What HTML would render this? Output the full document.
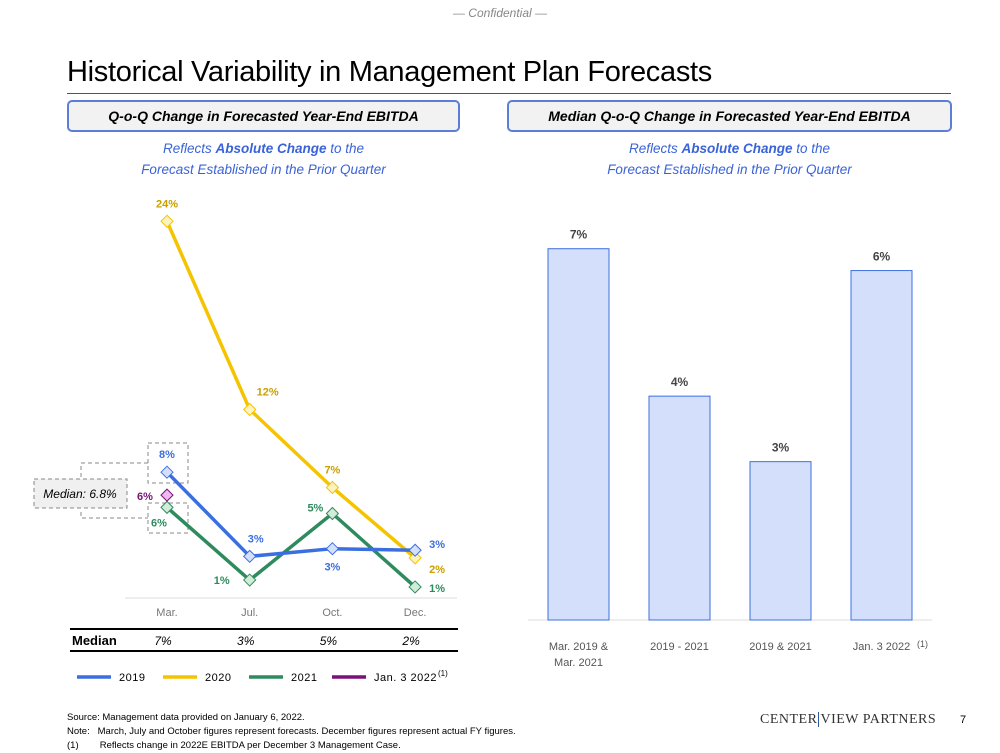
<!DOCTYPE html>
<html><head><meta charset="utf-8"><style>
body{margin:0;width:1000px;height:750px;background:#fff;position:relative;overflow:hidden;font-family:"Liberation Sans",sans-serif;color:#000}
.a{position:absolute;white-space:nowrap}
.box{position:absolute;border:2px solid #5b7fd6;border-radius:5px;background:#f2f2f2;font-style:italic;font-weight:bold;font-size:14px;text-align:center;line-height:28px;box-sizing:border-box;height:32px}
.sub{position:absolute;color:#3a63d8;font-style:italic;font-size:13.5px;text-align:center;line-height:21px}
</style></head><body>
<div class="a" style="left:0;width:1000px;text-align:center;top:6px;font-size:12px;font-style:italic;color:#888">— Confidential —</div>
<div class="a" style="left:67px;top:56px;font-size:29px;letter-spacing:-0.3px">Historical Variability in Management Plan Forecasts</div>
<div class="a" style="left:67px;top:93px;width:884px;height:1px;background:#2e5a9a"></div>
<div class="box" style="left:67px;top:100px;width:393px">Q-o-Q Change in Forecasted Year-End EBITDA</div>
<div class="box" style="left:507px;top:100px;width:445px">Median Q-o-Q Change in Forecasted Year-End EBITDA</div>
<div class="sub" style="left:67px;width:393px;top:138px">Reflects <b>Absolute Change</b> to the<br>Forecast Established in the Prior Quarter</div>
<div class="sub" style="left:507px;width:445px;top:138px">Reflects <b>Absolute Change</b> to the<br>Forecast Established in the Prior Quarter</div>

<svg id="chart" width="1000" height="750" style="position:absolute;left:0;top:0" font-family="Liberation Sans, sans-serif"></svg>

<div class="a" style="left:67px;top:711px;font-size:9.5px;line-height:14px">Source: Management data provided on January 6, 2022.<br>Note:&nbsp;&nbsp;&nbsp;March, July and October figures represent forecasts. December figures represent actual FY figures.<br>(1)&nbsp;&nbsp;&nbsp;&nbsp;&nbsp;&nbsp;&nbsp;&nbsp;Reflects change in 2022E EBITDA per December 3 Management Case.</div>
<div class="a" style="left:760px;top:712px;font-size:14px;color:#333;letter-spacing:0.5px;font-family:'Liberation Serif',serif">CENTER<span style="border-left:1px solid #2e5a9a;margin:0 1px"></span>VIEW PARTNERS</div>
<div class="a" style="left:960px;top:714px;font-size:11px">7</div>

<script>
const quarters=["Mar.","Jul.","Oct.","Dec."];
const s2019=[7.7,2.2,2.7,2.6];
const s2020=[24.1,11.8,6.7,2.1];
const s2021=[5.4,0.65,5.0,0.2];
const sJan=[6.2];
const lab2019=["8%","3%","3%","3%"];
const lab2020=["24%","12%","7%","2%"];
const lab2021=["6%","1%","5%","1%"];
const labJan=["6%"];
const medians=["7%","3%","5%","2%"];
const barCats=[["Mar. 2019 &","Mar. 2021"],["2019 - 2021"],["2019 & 2021"],["Jan. 3 2022"]];
const barVals=[6.8,4.1,2.9,6.4];
const barLabels=["7%","4%","3%","6%"];

const svg=document.getElementById('chart');
const NS='http://www.w3.org/2000/svg';
function mk(t,a,p){const e=document.createElementNS(NS,t);for(const k in a)e.setAttribute(k,a[k]);(p||svg).appendChild(e);return e;}
function txt(x,y,s,a,p){const e=mk('text',Object.assign({x:x,y:y},a),p);e.textContent=s;return e;}
const lx=i=>167+i*82.7;
const ly=v=>590-v*15.3;

const ax=mk('line',{x1:125,x2:457,y1:598,y2:598,stroke:'#ddd','stroke-width':1});

quarters.forEach((q,i)=>{const t=txt(lx(i),616,q,{'text-anchor':'middle','font-size':11,fill:'#777'});
});

const dash={fill:'none',stroke:'#888','stroke-dasharray':'4,3','stroke-width':1};
const c1=mk('rect',Object.assign({x:148,y:443,width:40,height:40},dash));
const c2=mk('rect',Object.assign({x:148,y:503,width:40,height:30},dash));
const c3=mk('path',Object.assign({d:'M148,463 H81 V478 M81,512 V518 H148'},dash));
const mb=mk('rect',{x:34,y:479,width:93,height:29,fill:'#f0f0f0',stroke:'#888','stroke-dasharray':'4,3'});

const mt=txt(80,498,'Median: 6.8%',{'text-anchor':'middle','font-size':12,'font-style':'italic'});


function series(vals,labs,color,fillc,labc,name,offs){
  const pts=vals.map((v,i)=>lx(i)+','+ly(v)).join(' ');
  if(vals.length>1){const pl=mk('polyline',{points:pts,fill:'none',stroke:color,'stroke-width':3.5});
  }
  vals.forEach((v,i)=>{const x=lx(i),y=ly(v);
    const d=mk('path',{d:`M${x},${y-6} L${x+6},${y} L${x},${y+6} L${x-6},${y} Z`,fill:fillc,stroke:color,'stroke-width':1});
    
    const o=offs[i];
    const t=txt(x+o[0],y+o[1],labs[i],{'text-anchor':'middle','font-size':11,'font-weight':'bold',fill:labc});
    
  });
}
series(s2020,lab2020,'#f5c400','#fdf3c0','#c9a000','2020',[[0,-14],[18,-14],[0,-14],[22,15]]);
series(s2021,lab2021,'#2e8b5e','#d2ecd9','#2e8b5e','2021',[[-8,19],[-28,4],[-17,-2],[22,5]]);
series(s2019,lab2019,'#3b6fe0','#d4e0fb','#3b6fe0','2019',[[0,-14],[6,-14],[0,22],[22,-2]]);
series(sJan,labJan,'#7a1078','#f0b8f0','#7a1078','jan-2022',[[-22,5]]);

const r1=mk('line',{x1:70,x2:458,y1:629,y2:629,stroke:'#000','stroke-width':2});
const r2=mk('line',{x1:70,x2:458,y1:651,y2:651,stroke:'#000','stroke-width':2});
const mh=txt(72,645,'Median',{'font-size':13,'font-weight':'bold'});
medians.forEach((m,i)=>{const t=txt(lx(i)-4,645,m,{'text-anchor':'middle','font-size':12,'font-style':'italic'});
});

const leg=[['2019','#3b6fe0',77],['2020','#f5c400',163],['2021','#2e8b5e',249],['Jan. 3 2022','#7a1078',332]];
leg.forEach(l=>{const g=mk('g',{});
mk('line',{x1:l[2],x2:l[2]+34,y1:677,y2:677,stroke:l[1],'stroke-width':3.5},g);
txt(l[2]+42,681,l[0],{'font-size':11,'letter-spacing':'0.5'},g);
if(l[0].startsWith('Jan')){txt(l[2]+106,676,'(1)',{'font-size':8},g);}});

const by=v=>620-v*54.6;
const bxl=i=>548+i*101;
const bax=mk('line',{x1:528,x2:932,y1:620,y2:620,stroke:'#ddd'});
barVals.forEach((v,i)=>{const r=mk('rect',{x:bxl(i),y:by(v),width:61,height:620-by(v),fill:'#d4e0fb',stroke:'#3b6fe0','stroke-width':1});

const t=txt(bxl(i)+30.5,by(v)-10,barLabels[i],{'text-anchor':'middle','font-size':12,'font-weight':'bold',fill:'#444'});

barCats[i].forEach((c,j)=>{const ct=txt(bxl(i)+30.5,650+j*16,c,{'text-anchor':'middle','font-size':11,fill:'#555'});
});
if(i===3){const s=txt(bxl(i)+66,647,'(1)',{'font-size':9,fill:'#555'});}
});
</script>
</body></html>
